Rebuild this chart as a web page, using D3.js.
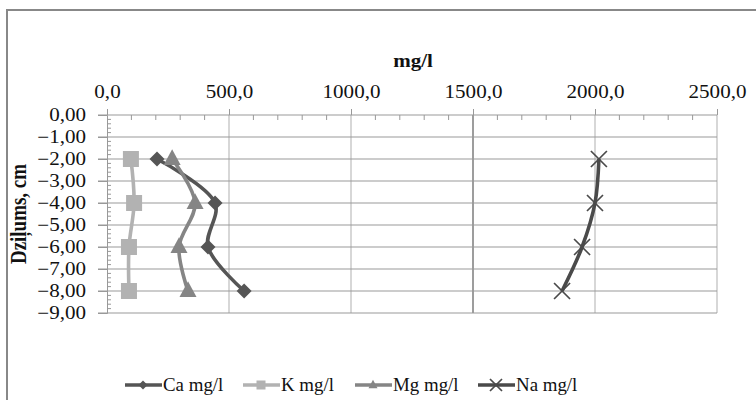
<!DOCTYPE html>
<html><head><meta charset="utf-8">
<script src="https://cdn.jsdelivr.net/npm/d3@7/dist/d3.min.js"></script>
<style>body{margin:0;background:#fff}svg{display:block}</style>
</head><body><svg id="c" width="756" height="408"></svg>
<script>
const depths = [-2, -4, -6, -8];
const ca = [205, 443, 414, 562];
const k = [98, 111, 90, 90];
const mg = [267, 361, 295, 332];
const na = [2016, 2000, 1947, 1865];
const xTicks = [0, 500, 1000, 1500, 2000, 2500];
const yTicks = [0, -1, -2, -3, -4, -5, -6, -7, -8, -9];
const seriesNames = ["Ca mg/l", "K mg/l", "Mg mg/l", "Na mg/l"];

const series = [
  {name: seriesNames[0], vals: ca, color: "#555555", marker: "diamond"},
  {name: seriesNames[1], vals: k, color: "#b2b2b2", marker: "square"},
  {name: seriesNames[2], vals: mg, color: "#858585", marker: "triangle"},
  {name: seriesNames[3], vals: na, color: "#4a4a4a", marker: "x"}
];

const FONT = "Liberation Serif";
const FS = 18, SX = 1.17;
const svg = d3.select("#c");
const fmtX = d => d3.format(".1f")(d).replace(".", ",");
const fmtY = d => d3.format(".2f")(d).replace(".", ",");

const x = d3.scaleLinear().domain([0, 2500]).range([107, 717]);
const y = d3.scaleLinear().domain([0, -9]).range([115, 313]);

// chart border
svg.append("path").attr("d", "M7,400 V10 H756").attr("fill", "none").attr("stroke", "#888").attr("stroke-width", 2);

// vertical gridlines
svg.append("g").selectAll("line").data(xTicks.slice(1)).join("line")
  .attr("x1", d => x(d)).attr("x2", d => x(d)).attr("y1", y(0)).attr("y2", y(-9))
  .attr("stroke", d => d === 1500 ? "#858585" : "#bdbdbd").attr("stroke-width", d => d === 1500 ? 1.6 : 1.2);

// horizontal gridlines
svg.append("g").selectAll("line").data(yTicks).join("line")
  .attr("x1", 98).attr("x2", x(2500)).attr("y1", d => y(d)).attr("y2", d => y(d))
  .attr("stroke", "#9a9a9a").attr("stroke-width", 1.2);

// top axis
const xAxis = d3.axisTop(x).tickValues(xTicks).tickFormat(fmtX).tickSize(6).tickPadding(10);
const gx = svg.append("g").attr("transform", `translate(0,${y(0)})`).call(xAxis);
gx.attr("font-family", FONT).attr("font-size", FS);
gx.select(".domain").remove();
gx.selectAll(".tick line").attr("stroke", "#999");
gx.selectAll("text").attr("font-family", FONT).attr("font-size", FS).attr("fill", "#111")
  .attr("y", 0).attr("transform", `translate(0,${-17}) scale(${SX},1)`);
// minor x ticks downward
svg.append("g").selectAll("line").data(d3.range(0, 2501, 100).filter(v => v % 500 !== 0)).join("line")
  .attr("x1", d => x(d)).attr("x2", d => x(d)).attr("y1", y(0)).attr("y2", y(0) + 5)
  .attr("stroke", "#999");

// left axis
const yAxis = d3.axisLeft(y).tickValues(yTicks).tickFormat(fmtY).tickSize(9).tickPadding(12);
const gy = svg.append("g").attr("transform", `translate(${x(0)},0)`).call(yAxis);
gy.attr("font-family", FONT).attr("font-size", FS);
gy.select(".domain").attr("stroke", "#999");
gy.selectAll(".tick line").attr("stroke", "#999");
gy.selectAll("text").attr("font-family", FONT).attr("font-size", FS).attr("fill", "#111")
  .attr("x", 0).attr("transform", `translate(-21,0) scale(${SX},1)`);
// minor y ticks
svg.append("g").selectAll("line").data(d3.range(0, 45).map(i => -i * 0.2).filter((v, i) => i % 5 !== 0)).join("line")
  .attr("x1", x(0)).attr("x2", x(0) + 4).attr("y1", d => y(d)).attr("y2", d => y(d))
  .attr("stroke", "#999");

// titles
svg.append("text").attr("transform", `translate(413,67) scale(${SX},1)`).attr("text-anchor", "middle")
  .attr("font-family", FONT).attr("font-size", 18).attr("font-weight", "bold").attr("fill", "#111").text("mg/l");
svg.append("text").attr("transform", `translate(26,${(y(0) + y(-9)) / 2}) rotate(-90) scale(1,${SX})`)
  .attr("text-anchor", "middle").attr("font-family", FONT).attr("font-size", 19).attr("font-weight", "bold")
  .attr("fill", "#111").text("Dziļums, cm");

// markers
function drawMarker(g, type, cx, cy, color, s) {
  if (type === "diamond") {
    g.append("path").attr("d", `M${cx},${cy - s}L${cx + s},${cy}L${cx},${cy + s}L${cx - s},${cy}Z`).attr("fill", color);
  } else if (type === "square") {
    g.append("rect").attr("x", cx - s).attr("y", cy - s).attr("width", 2 * s).attr("height", 2 * s).attr("fill", color);
  } else if (type === "triangle") {
    g.append("path").attr("d", `M${cx},${cy - s * 1.15}L${cx + s},${cy + s * 0.7}L${cx - s},${cy + s * 0.7}Z`).attr("fill", color);
  } else {
    g.append("path").attr("d", `M${cx - s},${cy - s}L${cx + s},${cy + s}M${cx - s},${cy + s}L${cx + s},${cy - s}`)
      .attr("stroke", color).attr("stroke-width", 1.7).attr("fill", "none");
  }
}

const line = d3.line().curve(d3.curveCatmullRom.alpha(0.5));
const sizes = {diamond: 7.5, square: 8, triangle: 8.5, x: 8};
series.forEach(s => {
  const pts = s.vals.map((v, i) => [x(v), y(depths[i])]);
  svg.append("path").attr("d", line(pts)).attr("fill", "none").attr("stroke", s.color).attr("stroke-width", 3.6);
  const g = svg.append("g");
  pts.forEach(p => drawMarker(g, s.marker, p[0], p[1], s.color, sizes[s.marker]));
});

// legend
const legX = [125, 243, 355, 478];
const legY = 385;
series.forEach((s, i) => {
  const g = svg.append("g");
  g.append("line").attr("x1", legX[i]).attr("x2", legX[i] + 37).attr("y1", legY).attr("y2", legY)
    .attr("stroke", s.color).attr("stroke-width", 3.4);
  drawMarker(g, s.marker, legX[i] + 18, legY, s.color, s.marker === "x" ? 6 : 4.5);
  g.append("text").attr("transform", `translate(${legX[i] + 38},${legY + 6}) scale(1.05,1)`)
    .attr("font-family", FONT).attr("font-size", FS).attr("fill", "#111").text(s.name);
});
</script></body></html>
